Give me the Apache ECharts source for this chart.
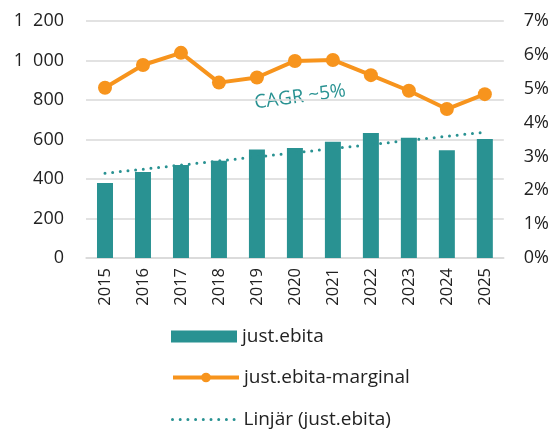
<!DOCTYPE html>
<html>
<head>
<meta charset="utf-8">
<script src="https://cdn.jsdelivr.net/npm/echarts@6/dist/echarts.min.js"></script>
<style>
  html, body { margin: 0; padding: 0; background: #fff; }
  #chart { width: 552px; height: 430px; }
</style>
</head>
<body>
<div id="chart"></div>
<script>
var years = ['2015', '2016', '2017', '2018', '2019', '2020', '2021', '2022', '2023', '2024', '2025'];
var ebita = [380, 435, 471, 493, 550, 557, 589, 633, 609, 545, 603];
var marginal = [5.03, 5.70, 6.06, 5.18, 5.33, 5.82, 5.85, 5.40, 4.94, 4.40, 4.84];
// trend line: only start and end, drawn straight between them
var trend = [429, null, null, null, null, null, null, null, null, null, 637];

var teal = '#299292';
var orange = '#F7941D';
var font = 'Open Sans';
var dots = [0, 7.7];

function legendAt(top, item) {
  return {
    orient: 'vertical',
    left: 166,
    top: top,
    itemWidth: 66,
    itemHeight: 12,
    textStyle: { fontSize: 19, color: '#222', fontFamily: font },
    data: [item]
  };
}

var option = {
  animation: false,
  textStyle: { fontFamily: font },
  grid: { left: 86, right: 48, top: 21, bottom: 172 },
  legend: [
    legendAt(322, { name: 'just.ebita', icon: 'rect' }),
    legendAt(363, { name: 'just.ebita-marginal', lineStyle: { width: 4 } }),
    legendAt(405, { name: 'Linjär (just.ebita)', itemStyle: { opacity: 0 }, lineStyle: { width: 3, type: dots, cap: 'round' } })
  ],
  xAxis: {
    type: 'category',
    data: years,
    axisLine: { show: true, lineStyle: { color: '#d9d9d9', width: 1.5 } },
    axisTick: { show: false },
    axisLabel: { rotate: 90, fontSize: 16.5, color: '#222', margin: 10 }
  },
  yAxis: [
    {
      type: 'value',
      min: 0,
      max: 1200,
      interval: 200,
      axisLine: { show: false },
      axisTick: { show: false },
      splitLine: { lineStyle: { color: '#d9d9d9', width: 1.5 } },
      axisLabel: {
        fontSize: 18,
        color: '#222',
        margin: 22,
        formatter: function (v) {
          return String(v).replace(/\B(?=(\d{3})+(?!\d))/g, '\u2002');
        }
      }
    },
    {
      type: 'value',
      min: 0,
      max: 7,
      interval: 1,
      axisLine: { show: false },
      axisTick: { show: false },
      splitLine: { show: false },
      axisLabel: { fontSize: 18, color: '#222', margin: 20, formatter: '{value}%' }
    }
  ],
  series: [
    {
      name: 'just.ebita',
      type: 'bar',
      data: ebita,
      barWidth: 16,
      itemStyle: { color: teal }
    },
    {
      name: 'just.ebita-marginal',
      type: 'line',
      yAxisIndex: 1,
      data: marginal,
      symbol: 'circle',
      symbolSize: 14,
      lineStyle: { color: orange, width: 4 },
      itemStyle: { color: orange }
    },
    {
      name: 'Linjär (just.ebita)',
      type: 'line',
      data: trend,
      connectNulls: true,
      symbol: 'none',
      z: 5,
      lineStyle: { color: teal, width: 3, type: dots, cap: 'round' },
      itemStyle: { color: teal }
    }
  ],
  graphic: [
    {
      type: 'text',
      x: 300,
      y: 97,
      rotation: 0.135,
      style: {
        text: 'CAGR ~5%',
        fill: teal,
        fontSize: 19,
        fontFamily: font,
        align: 'center',
        verticalAlign: 'middle'
      }
    }
  ]
};

echarts.init(document.getElementById('chart')).setOption(option);
</script>
</body>
</html>
